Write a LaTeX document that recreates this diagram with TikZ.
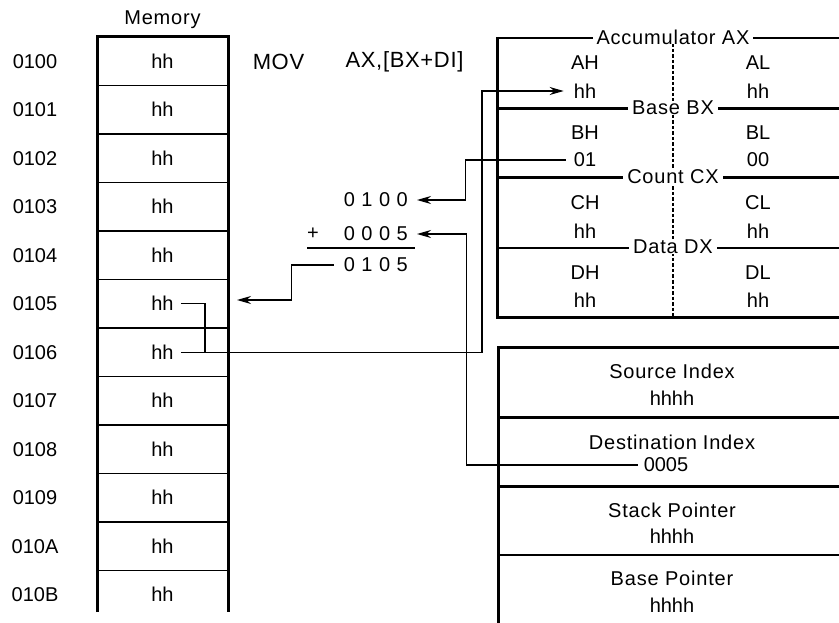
\documentclass[tikz,border=0pt]{standalone}
\usepackage{fontspec}
\setmainfont{Liberation Sans}
\usetikzlibrary{arrows.meta,calc}
\begin{document}
\begin{tikzpicture}[x=1pt,y=-1pt,
  txt/.style={font=\fontsize{20}{22}\selectfont, inner sep=2pt},
  sptxt/.style={font=\fontsize{20}{22}\selectfont\addfontfeature{LetterSpace=4}, inner sep=2pt},
  widetxt/.style={font=\fontsize{22}{24}\selectfont\addfontfeature{LetterSpace=3}, inner sep=0pt},
  sumtxt/.style={font=\fontsize{20}{22}\selectfont, inner sep=0pt, anchor=east},
  lbl/.style={sptxt, fill=white, inner xsep=4pt, inner ysep=0pt},
  heavy/.style={line width=3pt},
  medium/.style={line width=2.2pt},
  light/.style={line width=1.7pt},
  conn/.style={line width=1.4pt},
  arr/.style={conn, -{Stealth[length=14pt,width=8pt]}},
]
\useasboundingbox (0,0) rectangle (839,623);

% ---------- Memory ----------
\node[sptxt] (memtitle) at (162.5,20) {Memory};
\foreach \k/\a in {0/0100,1/0101,2/0102,3/0103,4/0104,5/0105,6/0106,7/0107,8/0108,9/0109,10/010A,11/010B} {
  \node[txt] (m\k) at (162.5,{61.25+48.5*\k}) {hh};
  \node[txt] (a\k) at (35,{61.25+48.5*\k}) {\a};
}
\foreach \k in {1,...,11} {
  \draw[light] (97,{37+48.5*\k}) -- (228,{37+48.5*\k});
}
\draw[heavy] (97,612) -- (97,37) -- (228,37) -- (228,612);

% ---------- Instruction ----------
\node[widetxt] (mov) at (278.5,62) {MOV};
\node[widetxt] (opnd) at (404.5,62) {AX,[BX+DI]};

% ---------- Sum ----------
\node[sumtxt] (s1) at (408,200) {0\hspace{6.5pt}1\hspace{6.5pt}0\hspace{6.5pt}0};
\node[sumtxt] (s2) at (408,234) {0\hspace{6.5pt}0\hspace{6.5pt}0\hspace{6.5pt}5};
\node[txt] (plus) at (313,234) {+};
\node[sumtxt] (s3) at (408,265) {0\hspace{6.5pt}1\hspace{6.5pt}0\hspace{6.5pt}5};
\draw[medium] (307,248) -- (415,248);

% ---------- General registers ----------
\draw[medium] (497,38) -- (839,38);
\draw[heavy] (497,37) -- (497,317) -- (839,317);
\draw[heavy] (497,109) -- (839,109);
\draw[heavy] (497,178) -- (839,178);
\draw[medium] (497,248) -- (839,248);
\draw[line width=1.1pt, dash pattern=on 3.5pt off 2pt] (673,38) -- (673,317);
\node[lbl] (axl) at (673,37) {Accumulator AX};
\node[lbl] (bxl) at (673,108) {Base BX};
\node[lbl] (cxl) at (673,177) {Count CX};
\node[lbl] (dxl) at (673,247) {Data DX};

\node[txt] (ah) at (585,63) {AH};
\node[txt] (ahv) at (585,91) {hh};
\node[txt] (al) at (758,63) {AL};
\node[txt] (alv) at (758,91) {hh};
\node[txt] (bh) at (585,133) {BH};
\node[txt] (bhv) at (585,160) {01};
\node[txt] (bl) at (758,133) {BL};
\node[txt] (blv) at (758,160) {00};
\node[txt] (ch) at (585,203) {CH};
\node[txt] (chv) at (585,231) {hh};
\node[txt] (cl) at (758,203) {CL};
\node[txt] (clv) at (758,231) {hh};
\node[txt] (dh) at (585,273) {DH};
\node[txt] (dhv) at (585,300) {hh};
\node[txt] (dl) at (758,273) {DL};
\node[txt] (dlv) at (758,300) {hh};

% ---------- Pointer and index registers ----------
\draw[heavy] (839,347) -- (498,347) -- (498,623);
\draw[heavy] (498,417) -- (839,417);
\draw[heavy] (498,486) -- (839,486);
\draw[medium] (498,555) -- (839,555);
\node[sptxt] (si) at (672,371) {Source\hspace{6pt}Index};
\node[txt] (siv) at (672,398) {hhhh};
\node[sptxt] (di) at (672,442) {Destination\hspace{6pt}Index};
\node[txt] (div) at (666,465) {0005};
\node[sptxt] (sp) at (672,510) {Stack Pointer};
\node[txt] (spv) at (672,536) {hhhh};
\node[sptxt] (bp) at (672,578) {Base Pointer};
\node[txt] (bpv) at (672,605) {hhhh};

% ---------- Connectors ----------
\coordinate (j1) at (205,352.25);
\coordinate (c2) at (482,352.25);
\coordinate (tip) at (237,300);
\draw[conn] ([xshift=5pt]m5.east) -| (j1);
\draw[arr, shorten >=8pt] ([xshift=5pt]m6.east) -- (c2) |- (ahv.west);
\draw[arr] ([xshift=-6pt]bhv.west) -- ++(-100,0) |- ([xshift=9pt]s1.east);
\draw[arr] ([xshift=-4pt]div.west) -- ++(-171,0) |- ([xshift=9pt]s2.east);
\draw[arr] ([xshift=-10pt]s3.west) -- ++(-42,0) |- (tip);
\end{tikzpicture}
\end{document}
